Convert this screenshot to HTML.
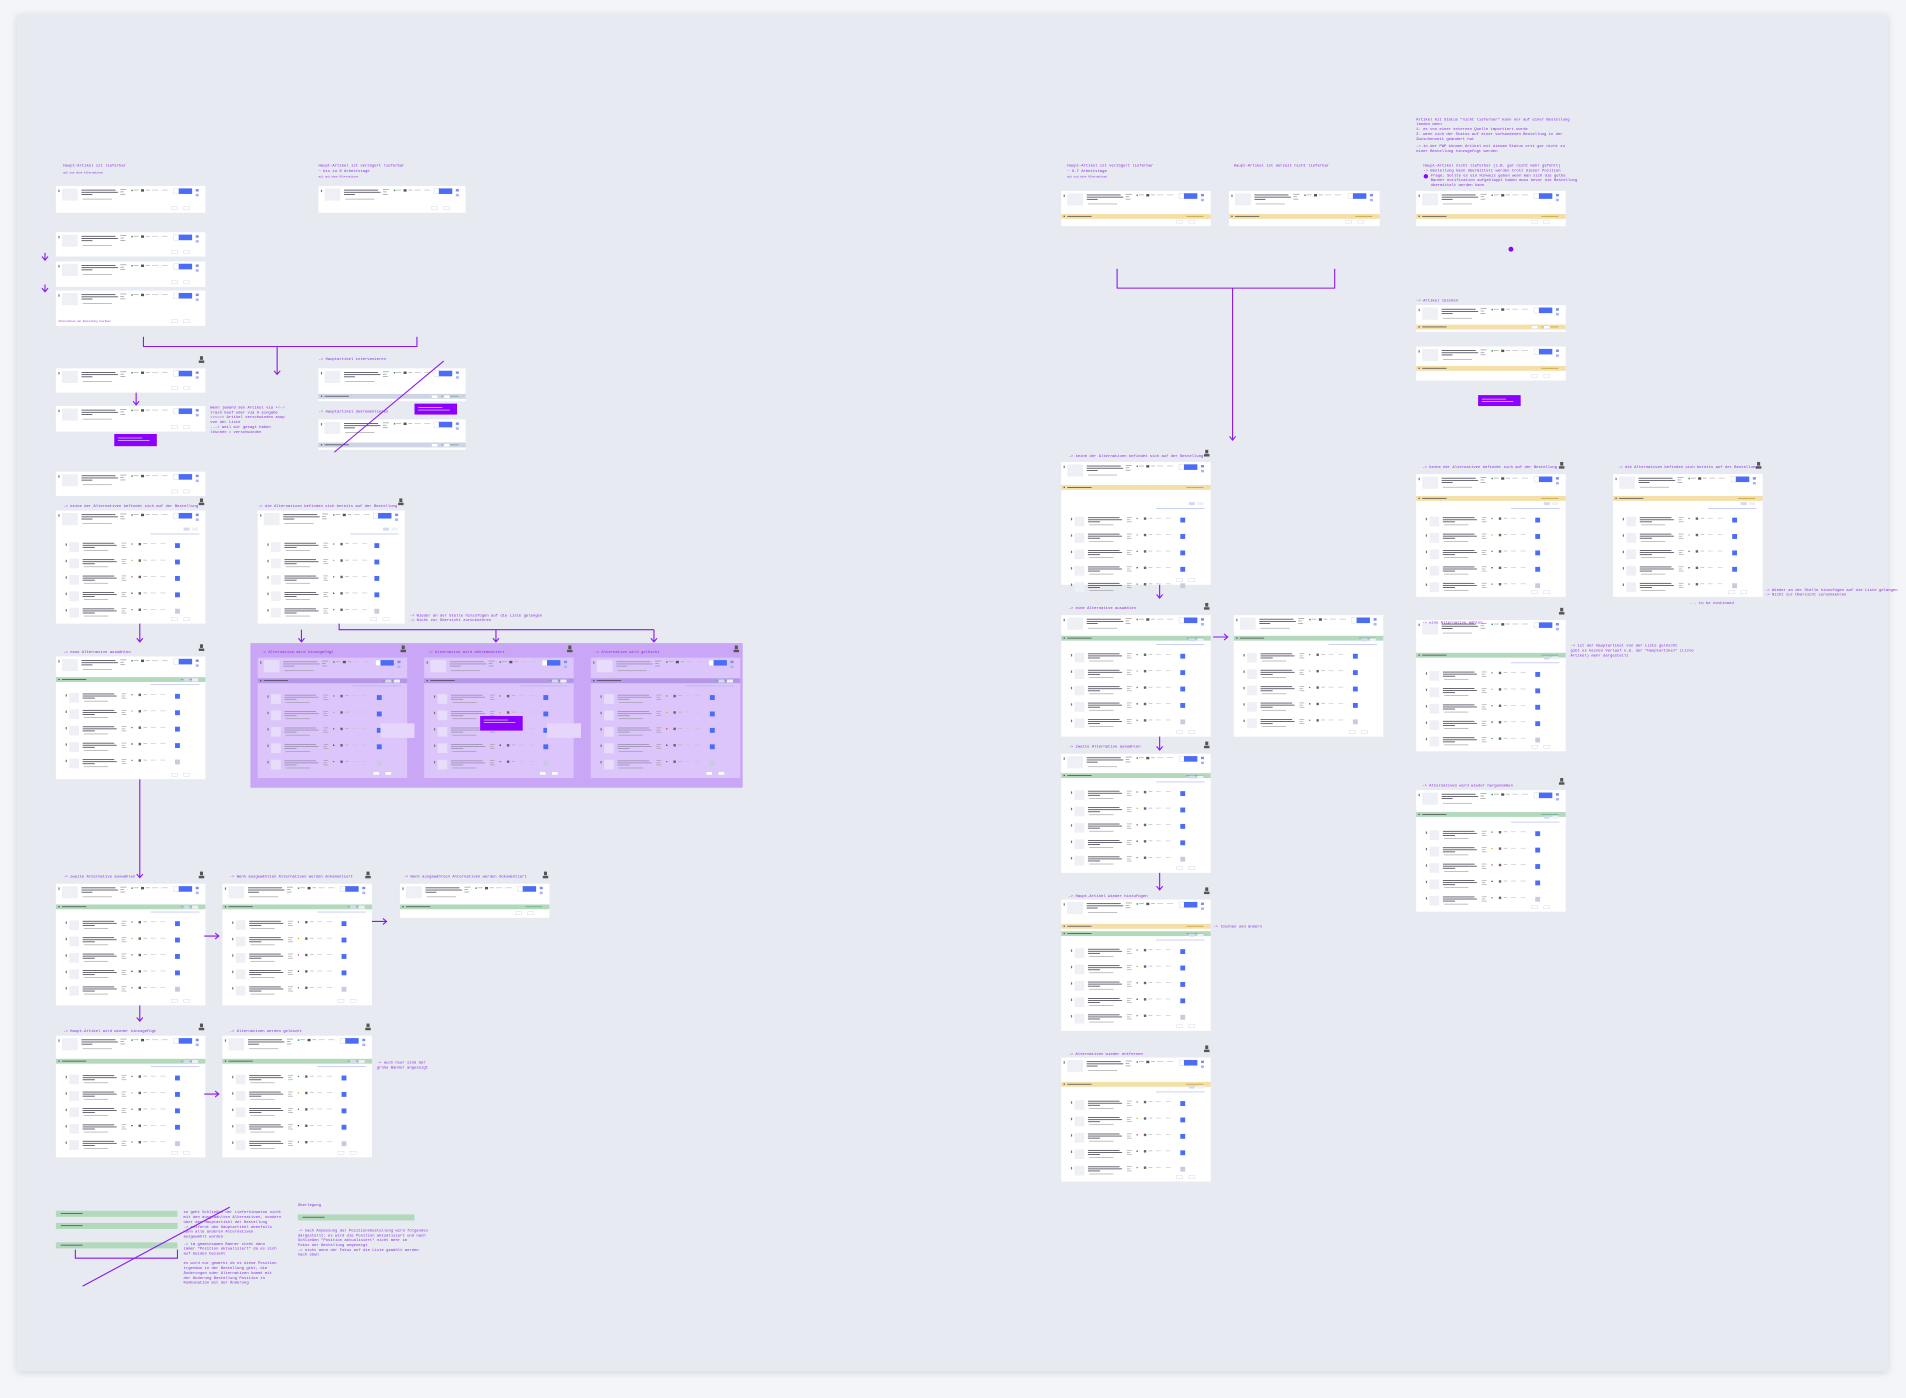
<!DOCTYPE html>
<html><head><meta charset="utf-8">
<style>
html,body{margin:0;padding:0;background:#f4f5f8;}
svg{display:block}
text{font-family:"Liberation Mono",monospace;fill:#8a2be2}
</style></head>
<body>
<svg id="s" width="1906" height="1398" viewBox="0 0 1568 1150" xmlns="http://www.w3.org/2000/svg">
<defs><filter id="sh" x="-2%" y="-2%" width="104%" height="104%"><feDropShadow dx="0" dy="1" stdDeviation="3" flood-color="#b8bccb" flood-opacity="0.6"/></filter></defs>
<rect x="14" y="12" width="1539" height="1116" fill="#e8eaf2" filter="url(#sh)"/>
<g id="g"></g>
<g font-size="3.2">
<text x="52" y="137">Haupt-Artikel ist lieferbar</text>
<text x="52" y="142.5" font-size="2.2" fill="#a77ae8">mit und ohne Alternativen</text>
<text x="262" y="137">Haupt-Artikel ist verzögert lieferbar</text>
<text x="262" y="141.5">~ bis zu 6 Arbeitstage</text>
<text x="262" y="146" font-size="2.2" fill="#a77ae8">mit und ohne Alternativen</text>
<text x="48" y="265" font-size="2" fill="#b7a0e0">Alternativen der Bestellung zuordnen</text>
<text x="262" y="296">-&gt; Hauptartikel intervenieren</text>
<text x="262" y="339.5">-&gt; Hauptartikel dekrementieren</text>
<text x="173" y="336">Wenn jemand den Artikel via +/-/</text>
<text x="173" y="340">trash kauf oder via 0 eingabe</text>
<text x="173" y="344">=====&gt; Artikel verschwinden asap</text>
<text x="173" y="348">von der Liste</text>
<text x="173" y="352">---&gt; weil wir gesagt haben</text>
<text x="173" y="356">löschen = verschwinden</text>
<text x="52" y="417">-&gt; keine der Alternativen befindet sich auf der Bestellung</text>
<text x="212" y="417">-&gt; die Alternativen befinden sich bereits auf der Bestellung</text>
<text x="337" y="507">-&gt; Wieder an der Stelle hinzufügen auf die Liste gelangen</text>
<text x="337" y="511">-&gt; Nicht zur Übersicht zurückkehren</text>
<text x="52" y="537">-&gt; neue Alternative auswählen</text>
<text x="215" y="537">-&gt; Alternative wird hinzugefügt</text>
<text x="352" y="537">-&gt; Alternative wird dekrementiert</text>
<text x="489" y="537">-&gt; Alternative wird gelöscht</text>
<text x="52" y="722">-&gt; zweite Alternative auswählen</text>
<text x="189" y="722">-&gt; Wenn ausgewählten Alternativen werden dokumentiert</text>
<text x="332" y="722">-&gt; Wenn ausgewählten Alternativen werden dokumentiert</text>
<text x="52" y="849">-&gt; Haupt-Artikel wird wieder hinzugefügt</text>
<text x="189" y="849">-&gt; Alternativen werden gelöscht</text>
<text x="310" y="875">-&gt; auch hier sind der</text>
<text x="310" y="879">grüne Banner angezeigt</text>
<text x="151" y="998">so geht Schließen der Lieferhinweise nicht</text>
<text x="151" y="1002">mit den ausgewählten Alternativen, sondern</text>
<text x="151" y="1006">über den Hauptartikel der Bestellung</text>
<text x="151" y="1010">-&gt; entfernt den Hauptartikel ebenfalls</text>
<text x="151" y="1014">wenn alle anderen Alternativen</text>
<text x="151" y="1018">ausgewählt wurden</text>
<text x="151" y="1024">-&gt; im gemeinsamen Banner steht dann</text>
<text x="151" y="1028">immer "Position aktualisiert" da es sich</text>
<text x="151" y="1032">auf beides bezieht</text>
<text x="151" y="1040">es wird nur gemerkt ob es diese Position</text>
<text x="151" y="1044">irgendwo in der Bestellung gibt, die</text>
<text x="151" y="1048">Änderungen oder Alternativen kommt mit</text>
<text x="151" y="1052">der Änderung Bestellung Position in</text>
<text x="151" y="1056">Kombination mit der Änderung</text>
<text x="245" y="992">Überlegung</text>
<text x="245" y="1013">-&gt; nach Anpassung der Positionsbestellung wird folgendes</text>
<text x="245" y="1017">dargestellt: es wird die Position aktualisiert und nach</text>
<text x="245" y="1021">Schließen "Position aktualisiert" nicht mehr im</text>
<text x="245" y="1025">Fokus der Bestellung angezeigt</text>
<text x="245" y="1029">-&gt; nicht wenn der Fokus auf die Liste gewählt werden</text>
<text x="245" y="1033">nach oben</text>
<text x="878" y="137">Haupt-Artikel ist verzögert lieferbar</text>
<text x="878" y="141.5">~ 0-7 Arbeitstage</text>
<text x="878" y="146" font-size="2.2" fill="#a77ae8">mit und ohne Alternativen</text>
<text x="1015" y="137">Haupt-Artikel ist derzeit nicht lieferbar</text>
<text x="1165" y="99">Artikel mit Status "nicht lieferbar" kann nur auf einer Bestellung</text>
<text x="1165" y="103">landen wenn</text>
<text x="1165" y="107">1. es von einer externen Quelle importiert wurde</text>
<text x="1165" y="111">2. wenn sich der Status auf einer vorhandenen Bestellung in der</text>
<text x="1165" y="115">   Zwischenzeit geändert hat</text>
<text x="1165" y="121">-&gt; in der PWP können Artikel mit diesem Status erst gar nicht zu</text>
<text x="1165" y="125">einer Bestellung hinzugefügt werden</text>
<text x="1171" y="137">Haupt-Artikel nicht lieferbar (z.B. gar nicht mehr geführt)</text>
<text x="1171" y="141">-&gt; Bestellung kann übermittelt werden trotz dieser Position</text>
<text x="1177" y="145">Frage: Sollte es ein Hinweis geben wenn man sich die gelbe</text>
<text x="1177" y="149">Banner notification aufgeklappt haben muss bevor die Bestellung</text>
<text x="1177" y="153">übermittelt werden kann</text>
<text x="1165" y="248">-&gt; Artikel löschen</text>
<text x="879" y="376">-&gt; keine der Alternativen befindet sich auf der Bestellung</text>
<text x="1170" y="385">-&gt; keine der Alternativen befindet sich auf der Bestellung</text>
<text x="1331" y="385">-&gt; die Alternativen befinden sich bereits auf der Bestellung</text>
<text x="1452" y="486">-&gt; Wieder an der Stelle hinzufügen auf die Liste gelangen</text>
<text x="1452" y="490">-&gt; Nicht zur Übersicht zurückkehren</text>
<text x="1390" y="497">... to be continued</text>
<text x="879" y="501">-&gt; eine Alternative auswählen</text>
<text x="1170" y="513">-&gt; eine Alternative wählen</text>
<text x="1292" y="532">-&gt; ist der Hauptartikel von der Liste gelöscht</text>
<text x="1292" y="536">gibt es keinen Verlauf o.ä. der "Hauptartikel" (Liste</text>
<text x="1292" y="540">Artikel) mehr dargestellt</text>
<text x="879" y="615">-&gt; zweite Alternative auswählen</text>
<text x="1170" y="647">-&gt; Alternativen wird wieder hergenommen</text>
<text x="879" y="738">-&gt; Haupt-Artikel wieder hinzufügen</text>
<text x="998" y="763">-&gt; löschen und ändern</text>
<text x="879" y="868">-&gt; Alternativen wieder entfernen</text>
</g>
</svg>
<script>
var g=document.getElementById('g'),s='';
function R(x,y,w,h,f,extra){s+='<rect x="'+x+'" y="'+y+'" width="'+w+'" height="'+h+'" fill="'+f+'" '+(extra||'')+'/>';}
function main(x,y,w,pale){
 var d=pale?'#9a92b4':'#50505e';
 R(x+2,y+3,1,2,'#777');
 R(x+5,y+2,13,10,pale?'#e8dcfb':'#eef0f6');
 R(x+21,y+3,28,0.7,d);R(x+21,y+4.8,30,0.7,d);R(x+21,y+6.6,9,0.7,d);
 R(x+22,y+10.5,24,0.5,'#999');
 R(x+53,y+2.5,5,0.6,'#999');R(x+53,y+4.5,3,0.6,'#999');R(x+53,y+6.5,4,0.6,'#999');
 R(x+62,y+3,1.2,1.2,'#2a9a4a');R(x+64,y+3,4,0.6,'#aaa');
 R(x+70,y+2.6,2.5,2,'#555');R(x+74,y+3,3,0.6,'#aaa');
 R(x+79,y+3,5,0.6,'#c4c4cc');R(x+87,y+3,5,0.6,'#c4c4cc');
 R(x+w-26,y+2,15,4.5,'#fff','stroke="#c8cde0" stroke-width="0.3"');
 R(x+w-22,y+2,11,4.5,'#4a6cf7');
 R(x+w-8,y+2.5,2.5,2,'#7b8ff0');R(x+w-8,y+6.5,2.5,2,'#aab4f0');
}
function row(x,y,w,c,pale){
 var d=pale?'#9a92b4':'#50505e';
 R(x+8,y+1,1,2,'#777');
 R(x+11,y,8,8,pale?'#e8dcfb':'#eef0f6');
 R(x+22,y+0.5,26,0.7,d);R(x+22,y+2.2,28,0.7,d);R(x+22,y+3.9,10,0.7,d);
 R(x+23,y+6.5,20,0.5,'#999');
 R(x+54,y+0.5,4,0.5,'#999');R(x+54,y+2.3,3,0.5,'#999');R(x+54,y+4,4,0.5,'#999');
 R(x+62,y+1,1,1,['#2a9a4a','#e0a020','#d03030','#222'][c%4]);
 R(x+68,y+0.6,2,2,'#666');R(x+72,y+1,3,0.5,'#aaa');
 R(x+78,y+1,4,0.5,'#c4c4cc');R(x+86,y+1,4,0.5,'#c4c4cc');
 R(x+w-25,y+0.8,4,4,c==4?'#c8cbe0':'#4a6cf7');
}
var BC={y:'#f4dfa8',g:'#b3d9bd',gr:'#cfd3e6',p:'#b497e6'};
function card(x1,y1,x2,y2,o){
 o=o||{};var w=x2-x1,pale=o.pale;
 R(x1,y1,w,y2-y1,pale?'#dcc5fb':'#ffffff');
 main(x1,y1,w,pale);
 (o.bars||[]).forEach(function(b){R(x1,b[0],w,4,BC[b[1]]);R(x1+2,b[0]+1.4,1,1,'#444');R(x1+5,b[0]+1.6,20,0.6,'#444');R(x2-20,b[0]+1.6,14,0.6,b[1]=='y'?'#c49a30':'#6a8');});
 if(o.rows){R(x2-18,o.rows-12,5,2.5,'#d6daf0');R(x2-11,o.rows-12,5,2.5,'#eef0f6');R(x2-45,o.rows-7,40,0.5,'#a8b4f0');
  for(var i=0;i<5;i++)row(x1,o.rows+i*13.5,w,i,pale);}
 if(o.badge){R(x2-4.5,y1-10,2.5,3,'#555');R(x2-5.5,y1-6.5,4.5,2,'#555');}
 R(x2-28,y2-5,5,2.5,'#fff','stroke="#c8cde0" stroke-width="0.3"');R(x2-18,y2-5,5,2.5,'#fff','stroke="#c8cde0" stroke-width="0.3"');
}
card(46,153,169,175);card(262,153,383,175);
card(46,191,169,211);card(46,215,169,236);card(46,239,169,268);
card(46,303,169,323,{badge:1});card(46,334,169,355);
card(262,303,383,330,{bars:[[324,'gr']]});card(262,345,383,370,{bars:[[364,'gr']]});
card(46,388,169,408);
card(46,420,169,513,{rows:446,badge:1});card(212,420,333,513,{rows:446,badge:1});
card(46,540,169,641,{bars:[[557,'g']],rows:570,badge:1});
R(206,529,405,119,'#c9a6f6');
card(212,541,335,640,{bars:[[558,'p']],rows:571,pale:1,badge:1});
card(349,541,472,640,{bars:[[558,'p']],rows:571,pale:1,badge:1});
card(486,541,609,640,{bars:[[558,'p']],rows:571,pale:1,badge:1});
R(313,595,28,12,'#e6d6fc');R(450,595,28,12,'#e6d6fc');
card(46,727,169,827,{bars:[[744,'g']],rows:757,badge:1});
card(183,727,306,827,{bars:[[744,'g']],rows:757,badge:1});
card(329,727,452,755,{bars:[[744,'g']],badge:1});
card(46,852,169,952,{bars:[[871,'g']],rows:884,badge:1});
card(183,852,306,952,{bars:[[871,'g']],rows:884,badge:1});
[[46,996],[46,1006],[46,1022]].forEach(function(p){R(p[0],p[1],100,5,'#b3d9bd');R(p[0]+4,p[1]+2,18,0.6,'#444');});
R(245,999,96,5,'#b3d9bd');R(249,1001,18,0.6,'#444');
card(873,157,996,186,{bars:[[176,'y']]});card(1011,157,1135,186,{bars:[[176,'y']]});card(1165,157,1288,186,{bars:[[176,'y']]});
card(1165,251,1288,273,{bars:[[267,'y']]});card(1165,285,1288,313,{bars:[[301,'y']]});
card(873,380,996,481,{bars:[[399,'y']],rows:425,badge:1});
card(1165,390,1288,491,{bars:[[408,'y']],rows:425,badge:1});
card(1327,390,1450,491,{bars:[[408,'y']],rows:425,badge:1});
card(873,506,996,606,{bars:[[523,'g']],rows:537,badge:1});
card(1015,506,1138,606,{bars:[[523,'g']],rows:537});
card(1165,510,1288,618,{bars:[[537,'g']],rows:552,badge:1});
card(873,620,996,718,{bars:[[636,'g']],rows:650,badge:1});
card(1165,650,1288,750,{bars:[[668,'g']],rows:683,badge:1});
card(873,740,996,848,{bars:[[760,'y'],[766,'g']],rows:780,badge:1});
card(873,870,996,972,{bars:[[890,'y']],rows:905,badge:1});
[[94,357,35,10],[341,332,35,9],[1216,325,35,9],[395,589,35,12]].forEach(function(b){R(b[0],b[1],b[2],b[3],'#8b00ff');R(b[0]+3,b[1]+3,20,0.6,'#e8d0ff');R(b[0]+3,b[1]+5,26,0.6,'#e8d0ff');});
var P='stroke="#8a17ef" stroke-width="0.9" fill="none"';
function L(d){s+='<path d="'+d+'" '+P+'/>';}
function ad(x,y1,y2){L('M'+x+' '+y1+'V'+y2+'M'+(x-2.5)+' '+(y2-3)+'L'+x+' '+y2+'L'+(x+2.5)+' '+(y2-3));}
function ar(y,x1,x2){L('M'+x1+' '+y+'H'+x2+'M'+(x2-3)+' '+(y-2.5)+'L'+x2+' '+y+'L'+(x2-3)+' '+(y+2.5));}
ad(37,208,214);ad(37,234,240);
L('M118 277V285H343V277');ad(228,285,308);
ad(112,323,333);
L('M365 297L275 372');
ad(115,513,528);
L('M279 513V518H538');ad(248,518,528);ad(408,518,528);ad(538,518,528);
ad(115,641,722);ad(115,827,840);
ar(770,168,180);ar(758,306,318);ar(900,168,180);
L('M189 993L68 1058');L('M62 1028V1035H146V1028');
L('M919 221V237H1098V221');ad(1014,237,362);
ad(954,481,492);ar(524,998,1010);ad(954,606,617);ad(954,718,732);
s+='<circle cx="1243" cy="205" r="2" fill="#8b00ff"/><circle cx="1173" cy="145" r="1.8" fill="#8b00ff"/>';
g.innerHTML=s;
</script>
</body></html>
